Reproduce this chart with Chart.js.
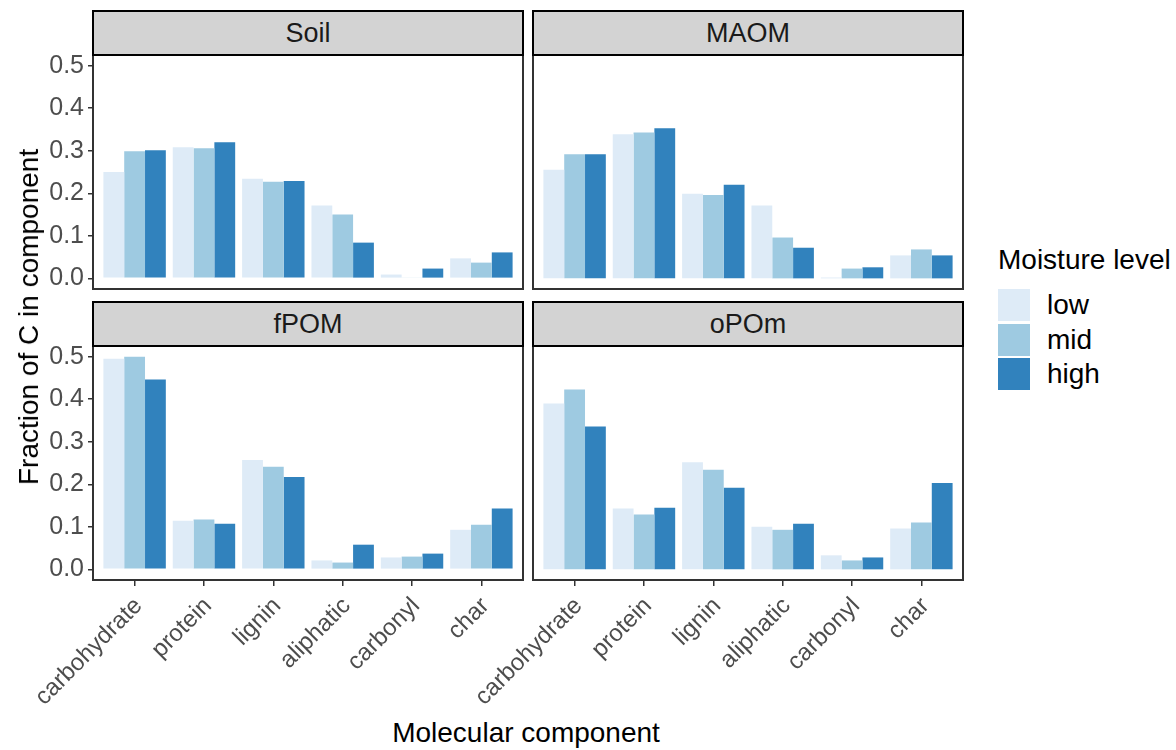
<!DOCTYPE html>
<html>
<head>
<meta charset="utf-8">
<script src="https://cdn.jsdelivr.net/npm/chart.js@4/dist/chart.umd.min.js"></script>
<style>
  html, body { margin:0; padding:0; background:#fff; }
  body { width:1176px; height:750px; position:relative; overflow:hidden; font-family:"Liberation Sans", Arial, sans-serif; }
  canvas { position:absolute; }
  .strip { position:absolute; box-sizing:border-box; background:#D3D3D3; border:2px solid #000; color:#1A1A1A; font-size:27px; text-align:center; display:flex; align-items:center; justify-content:center; z-index:2; }
  .title { position:absolute; color:#000; font-size:28px; white-space:nowrap; }
  .key { position:absolute; width:32px; height:32px; }
  .lab { position:absolute; font-size:28px; color:#000; line-height:32px; }
</style>
</head>
<body>
<div id="root"></div>
<script>
// ---- data ----
const categories = ['carbohydrate','protein','lignin','aliphatic','carbonyl','char'];
const fractions = ['Soil','MAOM','fPOM','oPOm'];
const moistureLevels = ['low','mid','high'];
const moistureColors = ['#DEEBF7','#9ECAE1','#3182BD'];
const yTickValues = [0.0, 0.1, 0.2, 0.3, 0.4, 0.5];

const soilLow  = [0.250, 0.308, 0.234, 0.171, 0.009, 0.047];
const soilMid  = [0.299, 0.306, 0.227, 0.150, 0.002, 0.037];
const soilHigh = [0.301, 0.320, 0.229, 0.084, 0.023, 0.061];

const maomLow  = [0.255, 0.339, 0.199, 0.171, 0.002, 0.054];
const maomMid  = [0.292, 0.343, 0.196, 0.096, 0.023, 0.068];
const maomHigh = [0.292, 0.353, 0.220, 0.072, 0.026, 0.054];

const fpomLow  = [0.495, 0.114, 0.257, 0.021, 0.028, 0.093];
const fpomMid  = [0.500, 0.117, 0.241, 0.016, 0.030, 0.105];
const fpomHigh = [0.446, 0.107, 0.217, 0.058, 0.037, 0.143];

const opomLow  = [0.390, 0.143, 0.252, 0.100, 0.033, 0.096];
const opomMid  = [0.423, 0.129, 0.234, 0.093, 0.021, 0.110];
const opomHigh = [0.336, 0.145, 0.192, 0.107, 0.028, 0.203];

const panelSeries = [
  [soilLow, soilMid, soilHigh],
  [maomLow, maomMid, maomHigh],
  [fpomLow, fpomMid, fpomHigh],
  [opomLow, opomMid, opomHigh]
];

// ---- layout ----
const FONT = '"Liberation Sans", Arial, sans-serif';
const allVals = panelSeries.flat(2);
const yMaxData = Math.max(...allVals);
const yMin = -0.05 * yMaxData, yMax = 1.05 * yMaxData;

const colLeft = [93, 533], plotW = 430;
const rowTop = [55, 346], plotH = 234;
const stripH = 45, yAxisW = 93, xAxisH = 130, pad = 20, leftPad = 100;

const panelBorder = {
  id: 'panelBorder',
  afterDraw(chart) {
    const { ctx, chartArea: a } = chart;
    ctx.save();
    ctx.strokeStyle = '#333333';
    ctx.lineWidth = 2;
    ctx.strokeRect(a.left, a.top, a.width, a.height);
    ctx.restore();
  }
};

fractions.forEach((name, p) => {
  const col = p % 2, row = Math.floor(p / 2);
  const showY = col === 0, showX = row === 1;

  // strip
  const s = document.createElement('div');
  s.className = 'strip';
  s.style.left = (colLeft[col] - 1) + 'px';
  s.style.top = (rowTop[row] - stripH) + 'px';
  s.style.width = (plotW + 2) + 'px';
  s.style.height = (stripH + 1) + 'px';
  s.textContent = name;
  document.body.appendChild(s);

  // canvas
  const cv = document.createElement('canvas');
  const leftEdge = showY ? colLeft[col] - yAxisW : colLeft[col] - leftPad;
  const w = colLeft[col] + plotW - leftEdge + 2;
  const h = pad + plotH + (showX ? xAxisH : pad);
  cv.width = w; cv.height = h;
  cv.style.left = leftEdge + 'px';
  cv.style.top = (rowTop[row] - pad) + 'px';
  cv.style.width = w + 'px'; cv.style.height = h + 'px';
  document.body.appendChild(cv);

  new Chart(cv, {
    type: 'bar',
    data: {
      datasets: moistureLevels.map((lvl, k) => ({
        label: lvl,
        data: panelSeries[p][k].map((v, i) => ({ x: i + 1, y: v })),
        backgroundColor: moistureColors[k],
        borderWidth: 0,
        categoryPercentage: 0.9,
        barPercentage: 1.0
      }))
    },
    options: {
      responsive: false,
      devicePixelRatio: 1,
      animation: false,
      layout: { padding: { top: pad, bottom: showX ? 0 : pad, left: showY ? 0 : leftPad, right: 2 } },
      plugins: { legend: { display: false }, tooltip: { enabled: false } },
      scales: {
        x: {
          type: 'linear', min: 0.4, max: 6.6, offset: false, display: showX,
          afterBuildTicks: sc => { sc.ticks = categories.map((c, i) => ({ value: i + 1 })); },
          afterFit: sc => { if (showX) sc.height = xAxisH; },
          ticks: {
            autoSkip: false, minRotation: 45, maxRotation: 45, padding: 6, labelOffset: 4,
            color: '#4D4D4D', font: { family: FONT, size: 24 },
            callback: v => categories[Math.round(v) - 1]
          },
          grid: { offset: false, drawOnChartArea: false, drawTicks: true, tickLength: 6, color: '#333333', lineWidth: 1.5 },
          border: { display: false }
        },
        y: {
          type: 'linear', min: yMin, max: yMax, display: showY,
          afterBuildTicks: sc => { sc.ticks = yTickValues.map(v => ({ value: v })); },
          afterFit: sc => { if (showY) sc.width = yAxisW; },
          ticks: { color: '#4D4D4D', font: { family: FONT, size: 25 }, padding: 4, callback: v => v.toFixed(1) },
          grid: { drawOnChartArea: false, drawTicks: true, tickLength: 5, color: '#333333', lineWidth: 1.5 },
          border: { display: false }
        }
      }
    },
    plugins: [panelBorder]
  });
});

// axis titles
const yt = document.createElement('div');
yt.className = 'title';
yt.textContent = 'Fraction of C in component';
yt.style.left = '29px'; yt.style.top = '317px';
yt.style.transform = 'translate(-50%,-50%) rotate(-90deg)';
document.body.appendChild(yt);

const xt = document.createElement('div');
xt.className = 'title';
xt.textContent = 'Molecular component';
xt.style.left = '526px'; xt.style.top = '733px';
xt.style.transform = 'translate(-50%,-50%)';
document.body.appendChild(xt);

// legend
const lt = document.createElement('div');
lt.className = 'title';
lt.textContent = 'Moisture level';
lt.style.left = '998px'; lt.style.top = '260px';
lt.style.transform = 'translateY(-50%)';
document.body.appendChild(lt);

moistureLevels.forEach((lvl, k) => {
  const top = 289 + k * 34.5;
  const key = document.createElement('div');
  key.className = 'key';
  key.style.left = '998px'; key.style.top = top + 'px';
  key.style.background = moistureColors[k];
  document.body.appendChild(key);
  const lb = document.createElement('div');
  lb.className = 'lab';
  lb.style.left = '1047px'; lb.style.top = top + 'px';
  lb.textContent = lvl;
  document.body.appendChild(lb);
});
</script>
</body>
</html>
